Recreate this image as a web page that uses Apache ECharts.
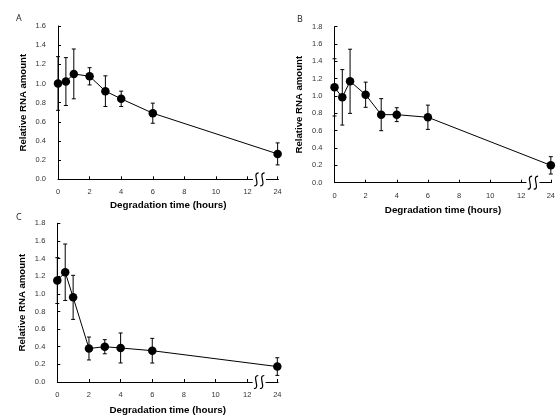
<!DOCTYPE html>
<html>
<head>
<meta charset="utf-8">
<script src="https://cdn.jsdelivr.net/npm/echarts@6/dist/echarts.min.js"></script>
<style>
  html, body { margin: 0; padding: 0; background: #fff; }
  #main { width: 558px; height: 419px; }
</style>
</head>
<body>
<div id="main"></div>
<script>
// sampling times (hours); 24 h sits after the axis break
var hours = [0, 0.5, 1, 2, 3, 4, 6, 24];
var xTicks = [0, 2, 4, 6, 8, 10, 12, 24];

// panel A
var meanA = [1.00, 1.02, 1.10, 1.075, 0.92, 0.84, 0.69, 0.265];
var errA  = [0.28, 0.25, 0.26, 0.09, 0.16, 0.08, 0.105, 0.115];
// panel B
var meanB = [1.10, 0.985, 1.17, 1.015, 0.785, 0.785, 0.755, 0.20];
var errB  = [0.33, 0.32, 0.37, 0.145, 0.185, 0.08, 0.14, 0.10];
// panel C
var meanC = [1.15, 1.245, 0.96, 0.38, 0.40, 0.386, 0.355, 0.175];
var errC  = [0.26, 0.32, 0.25, 0.13, 0.08, 0.17, 0.14, 0.10];

var BREAK_POS = 13.9;   // where 24 h is drawn on the compressed axis
var BREAK_MARK = 12.75; // where the squiggle goes
var X_MAX = 13.95;

function axisPos(h) { return h > 12 ? BREAK_POS : h; }

var FONT = 'Liberation Sans, Arial, sans-serif';
var chart = echarts.init(document.getElementById('main'));

var panels = [
  { letter: 'A', mean: meanA, err: errA, ymax: 1.6, grid: { left: 58, top: 26, width: 220.4, height: 153.3 }, xGap: 21 },
  { letter: 'B', mean: meanB, err: errB, ymax: 1.8, grid: { left: 334.5, top: 26.7, width: 223.2, height: 156 }, xGap: 23 },
  { letter: 'C', mean: meanC, err: errC, ymax: 1.8, grid: { left: 57.3, top: 223.3, width: 220.8, height: 158.7 }, xGap: 23 }
];

var grids = [], xAxes = [], yAxes = [], series = [], titles = [];

panels.forEach(function (p, i) {
  grids.push(p.grid);

  xAxes.push({
    type: 'value', gridIndex: i, min: 0, max: X_MAX,
    name: 'Degradation time (hours)', nameLocation: 'middle', nameGap: p.xGap,
    nameTextStyle: { fontFamily: FONT, fontWeight: 'bold', fontSize: 9.8, color: '#000' },
    splitLine: { show: false },
    axisLine: { lineStyle: { color: '#000', width: 1 } },
    axisTick: { inside: true, length: 3, customValues: xTicks.map(axisPos), lineStyle: { color: '#000' } },
    axisLabel: {
      customValues: xTicks.map(axisPos), margin: 9,
      fontFamily: FONT, fontSize: 7.5, color: '#333',
      formatter: function (v) { return v > 12 ? '24' : String(v); }
    }
  });

  yAxes.push({
    type: 'value', gridIndex: i, min: 0, max: p.ymax, interval: 0.2,
    name: 'Relative RNA amount', nameLocation: 'middle', nameGap: 30, nameRotate: 90,
    nameTextStyle: { fontFamily: FONT, fontWeight: 'bold', fontSize: 9.6, color: '#000' },
    splitLine: { show: false },
    axisLine: { show: true, lineStyle: { color: '#000', width: 1 } },
    axisTick: { show: true, inside: true, length: 3, lineStyle: { color: '#000' } },
    axisLabel: {
      margin: 12, fontFamily: FONT, fontSize: 7.5, color: '#333',
      formatter: function (v) { return v.toFixed(1); }
    }
  });

  var errData = hours.map(function (h, k) {
    return [axisPos(h), p.mean[k] - p.err[k], p.mean[k] + p.err[k]];
  });

  series.push({
    type: 'custom', xAxisIndex: i, yAxisIndex: i, z: 3,
    data: errData,
    renderItem: function (params, api) {
      var hi = api.coord([api.value(0), api.value(2)]);
      var lo = api.coord([api.value(0), api.value(1)]);
      var w = 2;
      var st = { stroke: '#000', lineWidth: 1 };
      return {
        type: 'group',
        children: [
          { type: 'line', shape: { x1: hi[0], y1: hi[1], x2: lo[0], y2: lo[1] }, style: st },
          { type: 'line', shape: { x1: hi[0] - w, y1: hi[1], x2: hi[0] + w, y2: hi[1] }, style: st },
          { type: 'line', shape: { x1: lo[0] - w, y1: lo[1], x2: lo[0] + w, y2: lo[1] }, style: st }
        ]
      };
    }
  });

  series.push({
    type: 'line', xAxisIndex: i, yAxisIndex: i, z: 4,
    data: hours.map(function (h, k) { return [axisPos(h), p.mean[k]]; }),
    symbol: 'circle', symbolSize: 8.5,
    itemStyle: { color: '#000' },
    lineStyle: { color: '#000', width: 1 }
  });
});

titles = [
  { text: 'A', left: 11, top: 9 },
  { text: 'B', left: 292, top: 10 },
  { text: 'C', left: 11, top: 208 }
].map(function (t) {
  t.textStyle = { fontFamily: 'Open Sans, sans-serif', fontWeight: 'normal', fontSize: 9, color: '#222' };
  return t;
});

chart.setOption({
  animation: false,
  backgroundColor: '#fff',
  title: titles,
  grid: grids,
  xAxis: xAxes,
  yAxis: yAxes,
  series: series
});

// axis break squiggles ("SS") drawn over the x axis
var graphics = [];
panels.forEach(function (p, i) {
  var c = chart.convertToPixel({ gridIndex: i }, [BREAK_MARK, 0]);
  var x = c[0], y = c[1];
  graphics.push({
    type: 'rect', z: 10, silent: true,
    shape: { x: x - 6.5, y: y - 2, width: 13, height: 4 },
    style: { fill: '#fff' }
  });
  [-3, 3].forEach(function (dx) {
    var cx = x + dx;
    graphics.push({
      type: 'bezierCurve', z: 11, silent: true,
      shape: { x1: cx + 2.2, y1: y - 6.5, cpx1: cx - 5, cpy1: y - 6.5, cpx2: cx + 5, cpy2: y + 6.5, x2: cx - 2.2, y2: y + 6.5 },
      style: { stroke: '#000', lineWidth: 1.2, fill: null }
    });
  });
});
chart.setOption({ graphic: graphics });
</script>
</body>
</html>
